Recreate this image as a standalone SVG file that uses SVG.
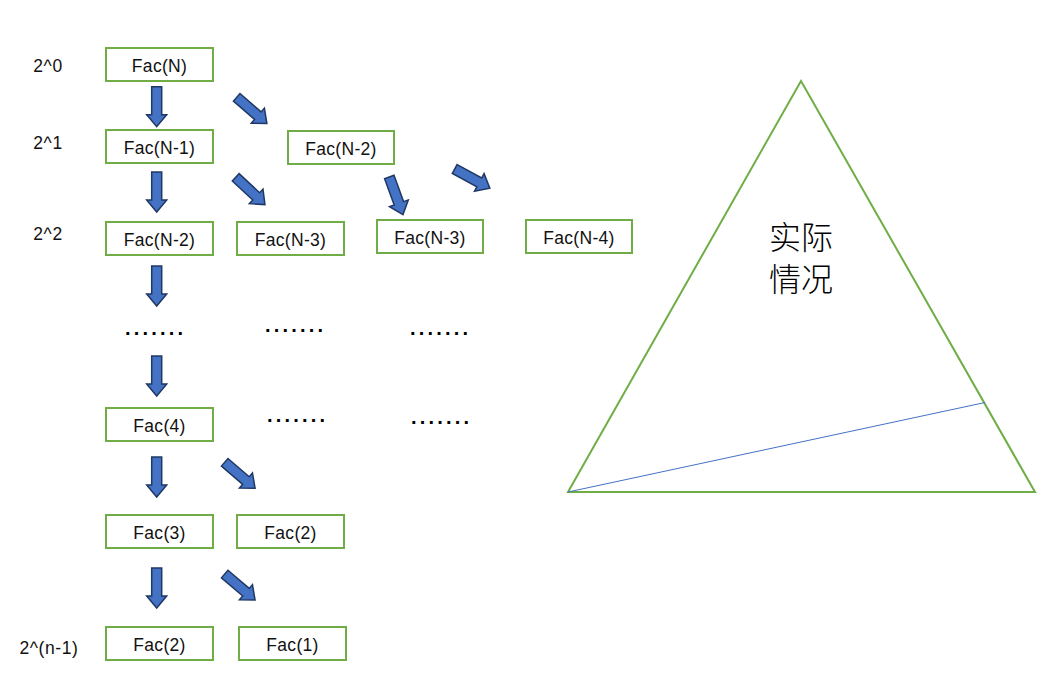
<svg xmlns="http://www.w3.org/2000/svg" width="1063" height="689" viewBox="0 0 1063 689">
<style>
.box{fill:#fff;stroke:#70AD47;stroke-width:2}
.t{font-family:"Liberation Sans",Arial,sans-serif;font-size:17.5px;fill:#111;text-anchor:middle;letter-spacing:0.3px}
.lv{font-family:"Liberation Sans",Arial,sans-serif;font-size:17.5px;fill:#111;text-anchor:middle;letter-spacing:0.6px}
.dots{font-family:"Liberation Sans",Arial,sans-serif;font-size:20px;font-weight:bold;fill:#000;letter-spacing:3.2px}
.arr{fill:#4472C4;stroke:#203864;stroke-width:1.5;stroke-linejoin:miter}
.cn{font-family:"Noto Sans CJK SC","Noto Sans CJK JP",sans-serif;font-size:32px;font-weight:300;fill:#000;text-anchor:middle}
</style>
<defs>
<path id="ar" class="arr" d="M0,-5 H28 V-10 L40,0 L28,10 V5 H0 Z"/>
</defs>
<rect width="1063" height="689" fill="#fff"/>

<g id="levels">
<text class="lv" x="48" y="72">2^0</text>
<text class="lv" x="48" y="149">2^1</text>
<text class="lv" x="48" y="240">2^2</text>
<text class="lv" x="49" y="654">2^(n-1)</text>
</g>

<g id="connectors">
<use href="#ar" transform="translate(156.7,86.7) rotate(90)"/>
<use href="#ar" transform="translate(156.7,172) rotate(90)"/>
<use href="#ar" transform="translate(156.7,266) rotate(90)"/>
<use href="#ar" transform="translate(156.7,356) rotate(90)"/>
<use href="#ar" transform="translate(156.7,457) rotate(90)"/>
<use href="#ar" transform="translate(156.7,568) rotate(90)"/>
<use href="#ar" transform="translate(236.7,97.3) rotate(41)"/>
<use href="#ar" transform="translate(235.7,177.3) rotate(43)"/>
<use href="#ar" transform="translate(389.3,177) rotate(70)"/>
<use href="#ar" transform="translate(454.7,169) rotate(28.6)"/>
<use href="#ar" transform="translate(224.7,462.3) rotate(40.6)"/>
<use href="#ar" transform="translate(224.7,574) rotate(40.6)"/>
</g>

<g id="n_facN"><rect class="box" x="106" y="48" width="107" height="33"/><text class="t" x="159.5" y="72">Fac(N)</text></g>
<g id="n_facN1"><rect class="box" x="106" y="130" width="107" height="33"/><text class="t" x="159.5" y="154">Fac(N-1)</text></g>
<g id="n_facN2a"><rect class="box" x="288" y="131" width="106" height="33"/><text class="t" x="341" y="155">Fac(N-2)</text></g>
<g id="n_facN2b"><rect class="box" x="106" y="222" width="107" height="33"/><text class="t" x="159.5" y="246">Fac(N-2)</text></g>
<g id="n_facN3a"><rect class="box" x="237" y="222" width="107" height="33"/><text class="t" x="290.5" y="246">Fac(N-3)</text></g>
<g id="n_facN3b"><rect class="box" x="377" y="220" width="106" height="33"/><text class="t" x="430" y="244">Fac(N-3)</text></g>
<g id="n_facN4"><rect class="box" x="526" y="220" width="106" height="33"/><text class="t" x="579" y="244">Fac(N-4)</text></g>
<g id="n_fac4"><rect class="box" x="106" y="408" width="107" height="33"/><text class="t" x="159.5" y="432">Fac(4)</text></g>
<g id="n_fac3"><rect class="box" x="106" y="515" width="107" height="33"/><text class="t" x="159.5" y="539">Fac(3)</text></g>
<g id="n_fac2a"><rect class="box" x="237" y="515" width="107" height="33"/><text class="t" x="290.5" y="539">Fac(2)</text></g>
<g id="n_fac2b"><rect class="box" x="106" y="627" width="107" height="33"/><text class="t" x="159.5" y="651">Fac(2)</text></g>
<g id="n_fac1"><rect class="box" x="239" y="627" width="107" height="33"/><text class="t" x="292.5" y="651">Fac(1)</text></g>

<g id="ellipses">
<text class="dots" x="125" y="335">.......</text>
<text class="dots" x="265" y="332">.......</text>
<text class="dots" x="410" y="335">.......</text>
<text class="dots" x="267" y="422">.......</text>
<text class="dots" x="411" y="424">.......</text>
</g>

<g id="triangle">
<polygon points="801,81 568,492 1035,492" fill="none" stroke="#70AD47" stroke-width="2"/>
<line x1="568" y1="492" x2="985" y2="402.5" stroke="#4472C4" stroke-width="1"/>
<text class="cn" x="801" y="249">实际</text>
<text class="cn" x="801" y="291">情况</text>
</g>
</svg>
